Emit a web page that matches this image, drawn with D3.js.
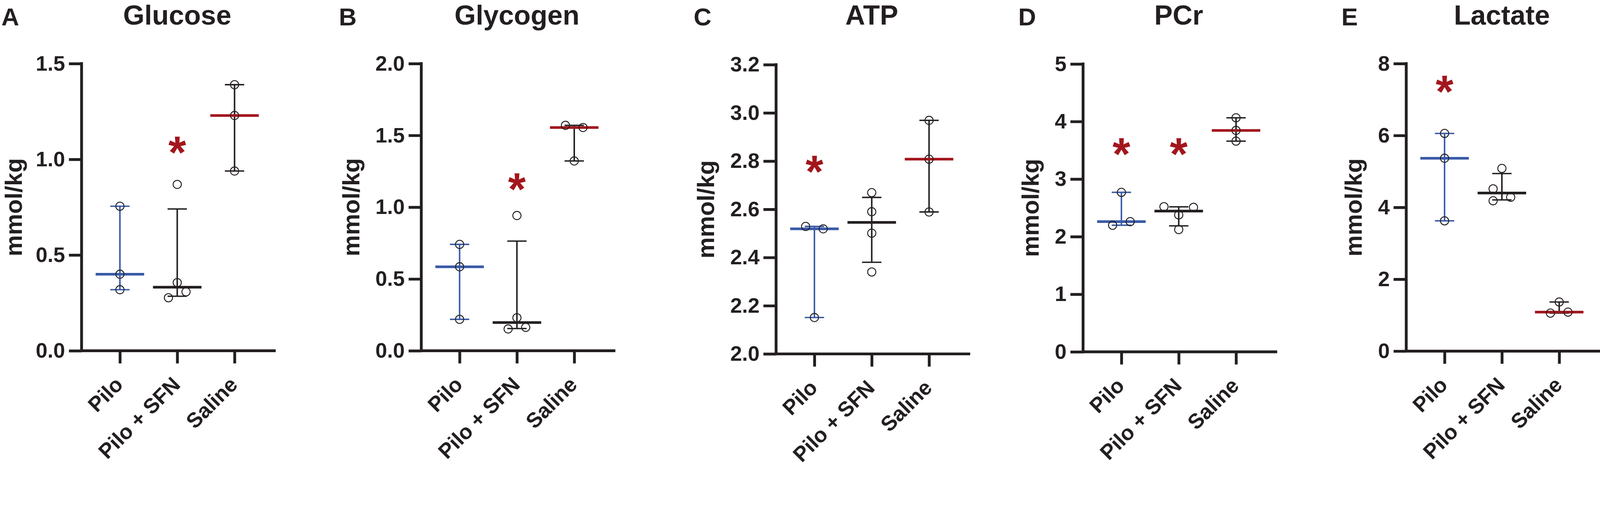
<!DOCTYPE html>
<html>
<head>
<meta charset="utf-8">
<script src="https://cdnjs.cloudflare.com/ajax/libs/d3/7.8.5/d3.min.js"></script>
<style>
    html, body { margin: 0; padding: 0; width: 100%; height: 100%; overflow: hidden; background: #fff; }
    svg { display: block; width: 100vw; height: 100vh; }
    text { font-family: "Liberation Sans", Arial, Helvetica, sans-serif; font-weight: bold; fill: #231f20; }
</style>
</head>
<body>
<svg id="chart" viewBox="0 0 4550 1337" preserveAspectRatio="xMidYMin meet"></svg>
<script>
// ---- data ----
const groups = ["Pilo", "Pilo + SFN", "Saline"];
const titles = ["Glucose", "Glycogen", "ATP", "PCr", "Lactate"];
const letters = ["A", "B", "C", "D", "E"];
const yLabel = "mmol/kg";

const yDomains = [[0, 1.5], [0, 2], [2, 3.2], [0, 5], [0, 8]];
const yTicks = [
    [0, 0.5, 1.0, 1.5],
    [0, 0.5, 1.0, 1.5, 2.0],
    [2.0, 2.2, 2.4, 2.6, 2.8, 3.0, 3.2],
    [0, 1, 2, 3, 4, 5],
    [0, 2, 4, 6, 8]
];
const tickFormats = [".1f", ".1f", ".1f", "d", "d"];

// individual animals per group: [Pilo, Pilo + SFN, Saline]
const glucose = [[0.755, 0.400, 0.319], [0.356, 0.277, 0.308, 0.869], [1.390, 1.229, 0.939]];
const glycogen = [[0.741, 0.585, 0.219], [0.942, 0.230, 0.152, 0.163], [1.570, 1.555, 1.322]];
const atp = [[2.529, 2.519, 2.151], [2.669, 2.590, 2.501, 2.340], [2.969, 2.808, 2.589]];
const pcr = [[2.770, 2.199, 2.261], [2.378, 2.510, 2.521, 2.124], [4.065, 3.846, 3.660]];
const lactate = [[6.058, 5.367, 3.625], [5.083, 4.516, 4.282, 4.184], [1.367, 1.058, 1.085]];
const panelData = [glucose, glycogen, atp, pcr, lactate];

// significance stars: [group index, height in data units]
const stars = [[[1, 1.078]], [[1, 1.182]], [[0, 2.79]], [[0, 3.577], [1, 3.577]], [[0, 7.45]]];

// ---- layout ----
const panelX = [232, 1198, 2207, 3080, 3999];
const plotTop = [181, 181, 184, 182, 181];
const plotBottom = [998, 998, 1007, 1001, 999];

const ink = "#231f20";
const blue = "#3a5aa8";
const red = "#a3161d";
const medianColors = [blue, ink, red];
const whiskerColors = [blue, ink, ink];

// Prism-style quartile, (n + 1) * p position
function quartile(sorted, p) {
    const n = sorted.length;
    const pos = p * (n + 1);
    if (pos <= 1) return sorted[0];
    if (pos >= n) return sorted[n - 1];
    const lo = Math.floor(pos);
    return sorted[lo - 1] + (pos - lo) * (sorted[lo] - sorted[lo - 1]);
}

// spread overlapping circles sideways, roughly like Prism does
function dodge(values, y, diam) {
    const order = values.map((v, i) => i).sort((a, b) => values[a] - values[b]);
    const offsets = values.map(() => 0);
    const clusters = [];
    order.forEach((idx, j) => {
        if (j > 0 && Math.abs(y(values[idx]) - y(values[order[j - 1]])) < diam) {
            clusters[clusters.length - 1].push(idx);
        } else {
            clusters.push([idx]);
        }
    });
    clusters.forEach(c => {
        if (c.length < 2) return;
        const px = c.map(i => y(values[i]));
        const span = d3.max(px) - d3.min(px);
        const members = c.slice().sort((a, b) => a - b);
        if (c.length % 2 === 1 && span < diam) {
            members.forEach((idx, i) => {
                const ring = Math.ceil(i / 2);
                offsets[idx] = i === 0 ? 0 : (i % 2 ? 1 : -1) * ring * 42;
            });
        } else {
            members.forEach((idx, i) => { offsets[idx] = (i % 2 ? 1 : -1) * 25; });
        }
    });
    return offsets;
}

const svg = d3.select("#chart");

panelData.forEach((data, k) => {
    const g = svg.append("g");
    const x0 = panelX[k];
    const top = plotTop[k];
    const bottom = plotBottom[k];

    const y = d3.scaleLinear().domain(yDomains[k]).range([bottom, top]);
    const x = d3.scalePoint().domain(groups).range([x0 + 109, x0 + 435]);

    // y axis
    const yAxis = g.append("g")
        .attr("transform", `translate(${x0},0)`)
        .call(d3.axisLeft(y)
            .tickValues(yTicks[k])
            .tickFormat(d3.format(tickFormats[k]))
            .tickSize(36)
            .tickSizeOuter(0)
            .tickPadding(11));
    yAxis.select(".domain").remove();
    yAxis.selectAll(".tick line").attr("stroke", ink).attr("stroke-width", 8);
    yAxis.selectAll(".tick text").attr("font-size", 60).attr("fill", ink);

    // x axis
    const xAxis = g.append("g")
        .attr("transform", `translate(0,${bottom})`)
        .call(d3.axisBottom(x).tickSize(36).tickSizeOuter(0).tickFormat(""));
    xAxis.select(".domain").remove();
    xAxis.selectAll(".tick line").attr("stroke", ink).attr("stroke-width", 8);

    g.append("line")
        .attr("x1", x0).attr("x2", x0)
        .attr("y1", top - 4).attr("y2", bottom + 4)
        .attr("stroke", ink).attr("stroke-width", 8);
    g.append("line")
        .attr("x1", x0 - 4).attr("x2", x0 + 552)
        .attr("y1", bottom).attr("y2", bottom)
        .attr("stroke", ink).attr("stroke-width", 8);

    g.selectAll(".xlabel")
        .data(groups)
        .join("text")
        .attr("class", "xlabel")
        .attr("transform", d => `translate(${x(d) + 12},${bottom + 100}) rotate(-45)`)
        .attr("text-anchor", "end")
        .attr("font-size", 60)
        .text(d => d);

    // y label and panel letter sit left of the widest tick label
    let maxW = 0;
    yAxis.selectAll(".tick text").each(function () {
        maxW = Math.max(maxW, this.getComputedTextLength());
    });
    const labelX = Math.max(62, x0 - 47 - maxW - 46);
    g.append("text")
        .attr("transform", `translate(${labelX},${(top + bottom) / 2}) rotate(-90)`)
        .attr("text-anchor", "middle")
        .attr("font-size", 68)
        .text(yLabel);

    g.append("text")
        .attr("x", Math.max(2, labelX - 58))
        .attr("y", 72)
        .attr("font-size", 70)
        .text(letters[k]);

    g.append("text")
        .attr("x", x(groups[1]))
        .attr("y", 70)
        .attr("text-anchor", "middle")
        .attr("font-size", 78)
        .text(titles[k]);

    // median with interquartile range, then the points
    data.forEach((vals, i) => {
        const cx = x(groups[i]);
        const sorted = vals.slice().sort(d3.ascending);
        const med = d3.median(sorted);
        const q1 = quartile(sorted, 0.25);
        const q3 = quartile(sorted, 0.75);

        g.append("line")
            .attr("x1", cx).attr("x2", cx)
            .attr("y1", y(q1)).attr("y2", y(q3))
            .attr("stroke", whiskerColors[i]).attr("stroke-width", 4.3);
        g.selectAll(null)
            .data([q1, q3])
            .join("line")
            .attr("x1", cx - 27.5).attr("x2", cx + 27.5)
            .attr("y1", d => y(d)).attr("y2", d => y(d))
            .attr("stroke", whiskerColors[i]).attr("stroke-width", 4);
        g.append("line")
            .attr("x1", cx - 69).attr("x2", cx + 69)
            .attr("y1", y(med)).attr("y2", y(med))
            .attr("stroke", medianColors[i]).attr("stroke-width", 7.5);

        const offs = dodge(vals, y, 25);
        g.selectAll(null)
            .data(vals)
            .join("circle")
            .attr("cx", (d, j) => cx + offs[j])
            .attr("cy", d => y(d))
            .attr("r", 11.7)
            .attr("fill", "none")
            .attr("stroke", ink)
            .attr("stroke-width", 2.6);
    });

    g.selectAll(".star")
        .data(stars[k])
        .join("text")
        .attr("class", "star")
        .attr("x", d => x(groups[d[0]]))
        .attr("y", d => y(d[1]) + 68)
        .attr("text-anchor", "middle")
        .attr("font-size", 130)
        .style("fill", red)
        .text("*");
});
</script>
</body>
</html>
